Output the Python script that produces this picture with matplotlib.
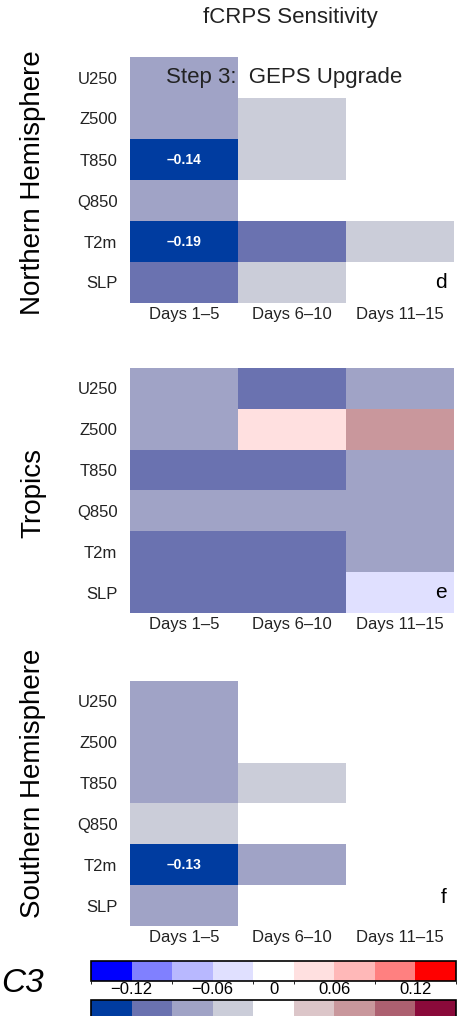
import numpy as np
import matplotlib
matplotlib.use("Agg")
import matplotlib.pyplot as plt
from matplotlib.colors import ListedColormap, BoundaryNorm
from matplotlib.cm import ScalarMappable

plt.rcParams['font.family'] = ['Liberation Sans', 'DejaVu Sans']

# fCRPS sensitivity, rows = variables, columns = forecast week ranges
variables = ["U250", "Z500", "T850", "Q850", "T2m", "SLP"]
periods = ["Days 1\u20135", "Days 6\u201310", "Days 11\u201315"]
regions = ["Northern Hemisphere", "Tropics", "Southern Hemisphere"]
panel_letters = ["d", "e", "f"]

nh_values = [
    [-0.07, 0.00, 0.00],
    [-0.07, -0.04, 0.00],
    [-0.14, -0.04, 0.00],
    [-0.07, 0.00, 0.00],
    [-0.19, -0.10, -0.04],
    [-0.10, -0.04, 0.00],
]
tr_values = [
    [-0.07, -0.10, -0.07],
    [-0.07, 0.04, 0.07],
    [-0.10, -0.10, -0.07],
    [-0.07, -0.07, -0.07],
    [-0.10, -0.10, -0.07],
    [-0.10, -0.10, -0.04],
]
sh_values = [
    [-0.07, 0.00, 0.00],
    [-0.07, 0.00, 0.00],
    [-0.07, -0.04, 0.00],
    [-0.04, 0.00, 0.00],
    [-0.13, -0.07, 0.00],
    [-0.07, 0.00, 0.00],
]
# cells drawn with the bright palette instead of the muted one
nh_bright = np.zeros((6, 3), bool)
tr_bright = np.zeros((6, 3), bool)
tr_bright[1, 1] = True
tr_bright[5, 2] = True
sh_bright = np.zeros((6, 3), bool)

bounds = [-0.15, -0.12, -0.09, -0.06, -0.03, 0.03, 0.06, 0.09, 0.12, 0.15]
cbar_ticks = [-0.12, -0.06, 0, 0.06, 0.12]
bright_colors = ['#0000ff', '#8080ff', '#b8b8ff', '#e0e0ff', '#ffffff',
                 '#ffe0e0', '#ffb8b8', '#ff8080', '#ff0000']
muted_colors = ['#003ca0', '#6a72b0', '#a0a3c6', '#cbcdd9', '#ffffff',
                '#dcc6c9', '#c9979c', '#ad6070', '#8a0a3a']

cmap_bright = ListedColormap(bright_colors)
cmap_muted = ListedColormap(muted_colors)
norm = BoundaryNorm(bounds, len(bright_colors), clip=True)

W, H = 463, 1016
fig = plt.figure(figsize=(W / 100, H / 100), dpi=100)


def fx(px):
    return px / W


def fy(px):
    return 1 - px / H


# panel boxes in pixels: (top, bottom), label centre y
panels = [
    (57, 303, 183, 5.0, nh_values, nh_bright),
    (368, 613, 493, 5.0, tr_values, tr_bright),
    (681, 926, 783, 4.8, sh_values, sh_bright),
]
left, right = 130, 454

for i, (top, bot, lab_y, let_y, vals, bright) in enumerate(panels):
    ax = fig.add_axes([fx(left), fy(bot), fx(right - left), (bot - top) / H])
    vals = np.array(vals)
    ax.imshow(np.ma.masked_where(bright, vals), cmap=cmap_muted, norm=norm,
              aspect='auto', interpolation='nearest')
    ax.imshow(np.ma.masked_where(~bright, vals), cmap=cmap_bright, norm=norm,
              aspect='auto', interpolation='nearest')
    for r in range(vals.shape[0]):
        for c in range(vals.shape[1]):
            if vals[r, c] <= -0.12:
                ax.text(c, r, f"{vals[r, c]:.2f}".replace("-", "\u2013"),
                        ha='center', va='center', color='white',
                        fontsize=10, fontweight='bold')
    ax.set_xticks(range(len(periods)))
    ax.set_xticklabels(periods, fontsize=12, color='#222222')
    ax.set_yticks(range(len(variables)))
    ax.set_yticklabels(variables, fontsize=12, color='#222222')
    ax.tick_params(length=0)
    ax.tick_params(axis='x', pad=3)
    ax.tick_params(axis='y', pad=9)
    for s in ax.spines.values():
        s.set_visible(False)
    ax.text(2.435, let_y, panel_letters[i], ha='right', va='center',
            fontsize=15)
    fig.text(fx(33), fy(lab_y), regions[i], rotation=90, ha='center',
             va='center', fontsize=20)

fig.text(fx(290), fy(18), "fCRPS Sensitivity", ha='center', va='center',
         fontsize=16, color='#222222')
fig.text(fx(166), fy(77), "Step 3:  GEPS Upgrade", ha='left', va='center',
         fontsize=16, color='#222222')

# two colour keys: bright on top with tick labels, muted below
cax1 = fig.add_axes([fx(91), fy(981), fx(365), 20 / H])
cb1 = fig.colorbar(ScalarMappable(norm=norm, cmap=cmap_bright), cax=cax1,
                   orientation='horizontal', spacing='uniform',
                   ticks=cbar_ticks)
cb1.ax.tick_params(length=0, labelsize=12, pad=1)
cb1.ax.set_xticklabels(["\u22120.12", "\u22120.06", "0", "0.06", "0.12"])
cb1.outline.set_linewidth(1.2)

cax2 = fig.add_axes([fx(91), fy(1020), fx(365), 20 / H])
cb2 = fig.colorbar(ScalarMappable(norm=norm, cmap=cmap_muted), cax=cax2,
                   orientation='horizontal', spacing='uniform')
cb2.set_ticks([])
cb2.outline.set_linewidth(1.2)

fig.text(fx(23), fy(984), "C3", style='italic', ha='center', va='center',
         fontsize=24)

fig.savefig("out.png", dpi=100)
